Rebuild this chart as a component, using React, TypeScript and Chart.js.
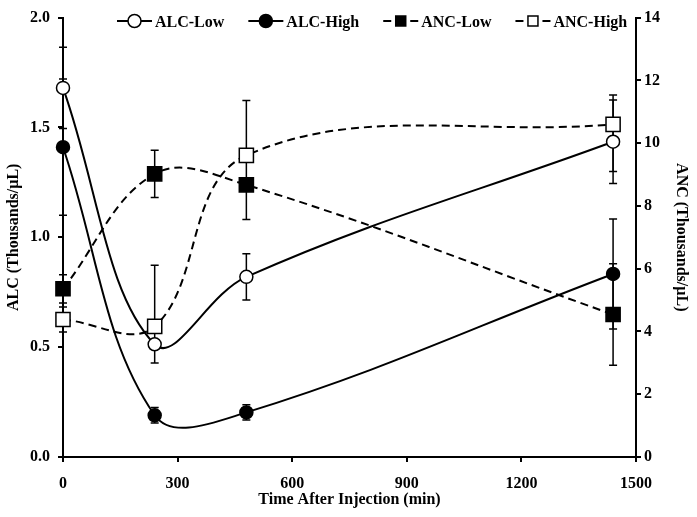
import React, { useEffect, useRef } from 'react';
import { Chart, registerables } from 'chart.js';

Chart.register(...registerables);

// ---- data ----
const timeMin = [0, 240, 480, 1440];

const alcLow = [1.68, 0.513, 0.82, 1.435];
const alcLowErr = [0.185, 0.085, 0.105, 0.19];

const alcHigh = [1.41, 0.19, 0.203, 0.833];
const alcHighErr = [0.31, 0.035, 0.035, 0.25];

const ancLow = [5.36, 9.02, 8.67, 4.54];
const ancLowErr = [0.45, 0.75, 1.1, 1.62];

const ancHigh = [4.38, 4.16, 9.61, 10.6];
const ancHighErrPlus = [0.4, 1.95, 1.75, 0.93];
const ancHighErrMinus = [0.4, 0, 0, 1.5];

const seriesLabels = ['ALC-Low', 'ALC-High', 'ANC-Low', 'ANC-High'];
const xTitle = 'Time After Injection (min)';
const yLeftTitle = 'ALC (Thousands/\u00B5L)';
const yRightTitle = 'ANC (Thousands/\u00B5L)';

const FAMILY = '"Liberation Serif", "Times New Roman", serif';
const FONT = { family: FAMILY, size: 16, weight: 'bold' as const };
const FONT_CSS = `bold 16px ${FAMILY}`;

const toPts = (ys: number[]) => timeMin.map((x, i) => ({ x, y: ys[i] }));

const errorBarPlugin = {
  id: 'errorBars',
  beforeDatasetsDraw(chart: any) {
    const ctx = chart.ctx;
    ctx.save();
    ctx.strokeStyle = '#000';
    ctx.lineWidth = 1.5;
    chart.data.datasets.forEach((ds: any, i: number) => {
      const meta = chart.getDatasetMeta(i);
      const sc = chart.scales[ds.yAxisID];
      ds.data.forEach((p: any, j: number) => {
        const el = meta.data[j];
        if (!el) return;
        const x = el.x;
        const y0 = sc.getPixelForValue(p.y);
        const plus = ds.errPlus[j];
        const minus = ds.errMinus[j];
        const draw = (v: number) => {
          const yy = sc.getPixelForValue(v);
          ctx.beginPath();
          ctx.moveTo(x, y0);
          ctx.lineTo(x, yy);
          ctx.moveTo(x - 4, yy);
          ctx.lineTo(x + 4, yy);
          ctx.stroke();
        };
        if (plus > 0) draw(p.y + plus);
        if (minus > 0) draw(p.y - minus);
      });
    });
    ctx.restore();
  },
};

const legendPlugin = {
  id: 'lineLegend',
  afterDraw(chart: any) {
    const ctx = chart.ctx;
    ctx.save();
    ctx.font = FONT_CSS;
    ctx.fillStyle = '#000';
    ctx.strokeStyle = '#000';
    ctx.textBaseline = 'alphabetic';
    let x = 117;
    const y = 21;
    const sw = 35;
    chart.data.datasets.forEach((ds: any) => {
      ctx.lineWidth = 2;
      ctx.setLineDash([]);
      ctx.beginPath();
      if (ds.borderDash && ds.borderDash.length) {
        ctx.moveTo(x, y);
        ctx.lineTo(x + 8, y);
        ctx.moveTo(x + sw - 8, y);
        ctx.lineTo(x + sw, y);
      } else {
        ctx.moveTo(x, y);
        ctx.lineTo(x + sw, y);
      }
      ctx.stroke();
      const cx = x + sw / 2;
      ctx.lineWidth = 1.5;
      ctx.fillStyle = ds.pointBackgroundColor;
      ctx.beginPath();
      if (ds.pointStyle === 'rect') {
        ctx.rect(cx - 5, y - 5, 10, 10);
      } else {
        ctx.arc(cx, y, 6.5, 0, Math.PI * 2);
      }
      ctx.fill();
      ctx.stroke();
      ctx.fillStyle = '#000';
      ctx.fillText(ds.label, x + sw + 3, y + 5.5);
      x += sw + 3 + ctx.measureText(ds.label).width + 24;
    });
    ctx.restore();
  },
};

export default function App() {
  const ref = useRef<HTMLCanvasElement | null>(null);

  useEffect(() => {
    if (!ref.current) return;
    Chart.defaults.color = '#000';
    const common = {
      borderColor: '#000',
      borderWidth: 2,
      tension: 0.38,
      pointBorderColor: '#000',
      pointBorderWidth: 1.5,
      clip: false as any,
    };
    const chart = new Chart(ref.current, {
      type: 'line',
      data: {
        datasets: [
          {
            ...common,
            label: seriesLabels[0],
            data: toPts(alcLow),
            yAxisID: 'y',
            pointStyle: 'circle',
            pointRadius: 6.5,
            pointBackgroundColor: '#fff',
            errPlus: alcLowErr,
            errMinus: alcLowErr,
          } as any,
          {
            ...common,
            label: seriesLabels[1],
            data: toPts(alcHigh),
            yAxisID: 'y',
            pointStyle: 'circle',
            pointRadius: 6.5,
            pointBackgroundColor: '#000',
            errPlus: alcHighErr,
            errMinus: alcHighErr,
          } as any,
          {
            ...common,
            label: seriesLabels[2],
            data: toPts(ancLow),
            yAxisID: 'y1',
            borderDash: [8, 5],
            pointStyle: 'rect',
            pointRadius: 10,
            pointBackgroundColor: '#000',
            errPlus: ancLowErr,
            errMinus: ancLowErr,
          } as any,
          {
            ...common,
            label: seriesLabels[3],
            data: toPts(ancHigh),
            yAxisID: 'y1',
            borderDash: [8, 5],
            pointStyle: 'rect',
            pointRadius: 10,
            pointBackgroundColor: '#fff',
            errPlus: ancHighErrPlus,
            errMinus: ancHighErrMinus,
          } as any,
        ],
      },
      options: {
        responsive: false,
        animation: false,
        layout: { padding: { top: 13, left: 0, right: 0, bottom: 0 } },
        plugins: {
          legend: { display: false },
          tooltip: { enabled: false },
        },
        scales: {
          x: {
            type: 'linear',
            min: 0,
            max: 1500,
            ticks: { stepSize: 300, font: FONT, padding: 12, color: '#000', callback: (v: any) => String(v) },
            grid: { drawOnChartArea: false, drawTicks: true, tickLength: 5, color: '#000', lineWidth: 2 },
            border: { display: true, color: '#000', width: 2 },
            title: { display: true, text: xTitle, font: FONT, color: '#000', padding: { top: 0, bottom: 8 } },
            afterFit: (s: any) => { s.height = 60; },
          },
          y: {
            type: 'linear',
            position: 'left',
            min: 0,
            max: 2,
            ticks: { stepSize: 0.5, font: FONT, padding: 8, color: '#000', callback: (v: any) => Number(v).toFixed(1) },
            grid: { drawOnChartArea: false, drawTicks: true, tickLength: 5, color: '#000', lineWidth: 2 },
            border: { display: true, color: '#000', width: 2 },
            title: { display: true, text: yLeftTitle, font: FONT, color: '#000', padding: { top: 4, bottom: 0 } },
            afterFit: (s: any) => { s.width = 63; },
          },
          y1: {
            type: 'linear',
            position: 'right',
            min: 0,
            max: 14,
            ticks: { stepSize: 2, font: FONT, padding: 3, color: '#000', callback: (v: any) => String(v) },
            grid: { drawOnChartArea: false, drawTicks: true, tickLength: 5, color: '#000', lineWidth: 2 },
            border: { display: true, color: '#000', width: 2 },
            title: { display: true, text: yRightTitle, font: FONT, color: '#000', padding: { top: 6, bottom: 0 } },
            afterFit: (s: any) => { s.width = 61; },
          },
        },
      },
      plugins: [errorBarPlugin, legendPlugin],
    } as any);
    return () => chart.destroy();
  }, []);

  return (
    <div style={{ position: 'absolute', left: 0, top: 0, width: 697, height: 517, background: '#fff' }}>
      <canvas ref={ref} width={697} height={517} style={{ display: 'block' }} />
    </div>
  );
}
